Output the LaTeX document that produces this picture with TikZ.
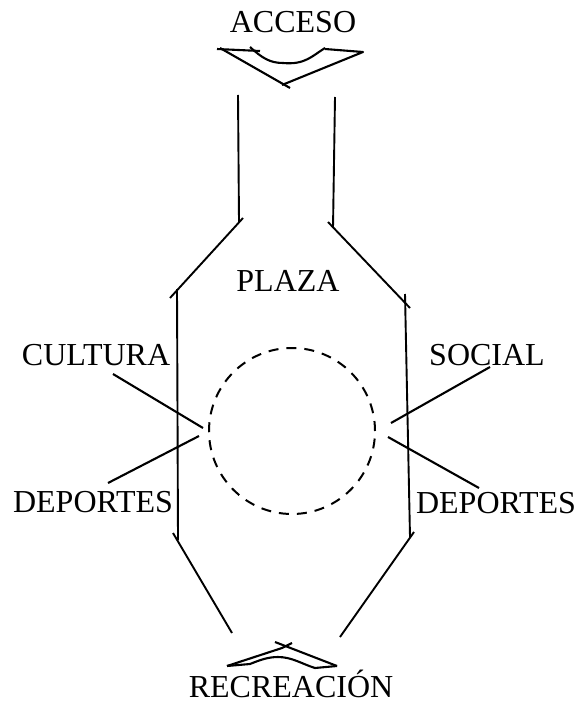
\documentclass[tikz,border=0pt]{standalone}
\usepackage{fontspec}
\setmainfont{Liberation Serif}
\begin{document}
\begin{tikzpicture}[
    x=1pt, y=-1pt,
    label/.style={inner sep=0pt, anchor=base, font=\fontsize{32}{32}\selectfont},
    wall/.style={line width=1.9pt, line join=round},
    pointer/.style={line width=2.1pt},
    gate/.style={line width=2.1pt, line join=round},
    plazaring/.style={draw, line width=2pt, dash pattern=on 10pt off 8pt}
]
\useasboundingbox (0,0) rectangle (579,703);

\node[label] at (293,33) (acceso) {ACCESO};
\node[label] at (288,291) (plaza) {PLAZA};
\node[label] at (96,365) (cultura) {CULTURA};
\node[label] at (487,365) (social) {SOCIAL};
\node[label] at (93,512) (deportesl) {DEPORTES};
\node[label] at (496,513) (deportesr) {DEPORTES};
\node[label] at (291,697) (recreacion) {RECREACIÓN};

\node[plazaring, circle, minimum size=166pt, inner sep=0pt] at (292,431) (ring) {};

\coordinate (culturaa) at (113,374);
\coordinate (culturab) at (203,428);
\coordinate (deportesla) at (108,483);
\coordinate (deporteslb) at (199,436);
\coordinate (sociala) at (490,367);
\coordinate (socialb) at (391,423);
\coordinate (deportesra) at (479,488);
\coordinate (deportesrb) at (388,437);

\draw[pointer] (culturaa) -- (culturab);
\draw[pointer] (deportesla) -- (deporteslb);
\draw[pointer] (sociala) -- (socialb);
\draw[pointer] (deportesra) -- (deportesrb);

% walls
\draw[wall] (238,95) -- (239,222);
\draw[wall] (243,218) -- (170,298);
\draw[wall] (177,289) -- (178,540);
\draw[wall] (173,533) -- (232,633);
\draw[wall] (335,97) -- (333,228);
\draw[wall] (328,222) -- (410,308);
\draw[wall] (405,294) -- (410,537);
\draw[wall] (414,532) -- (340,637);

% access
\draw[gate] (217,49) -- (260,51);
\draw[gate] (250,47) .. controls (262,58) and (270,63) .. (283,63) .. controls (305,65) and (312,56) .. (325,48);
\draw[gate] (325,49) -- (363,52) -- (282,85);
\draw[gate] (220,48) -- (290,88);

% recreation
\draw[gate] (227,666) -- (282,648) -- (292,643);
\draw[gate] (275,642) -- (337,666);
\draw[gate] (227,666) -- (250,664) .. controls (260,660) and (268,657) .. (278,657) .. controls (292,657) and (302,664) .. (315,668) -- (337,666);
\end{tikzpicture}
\end{document}
